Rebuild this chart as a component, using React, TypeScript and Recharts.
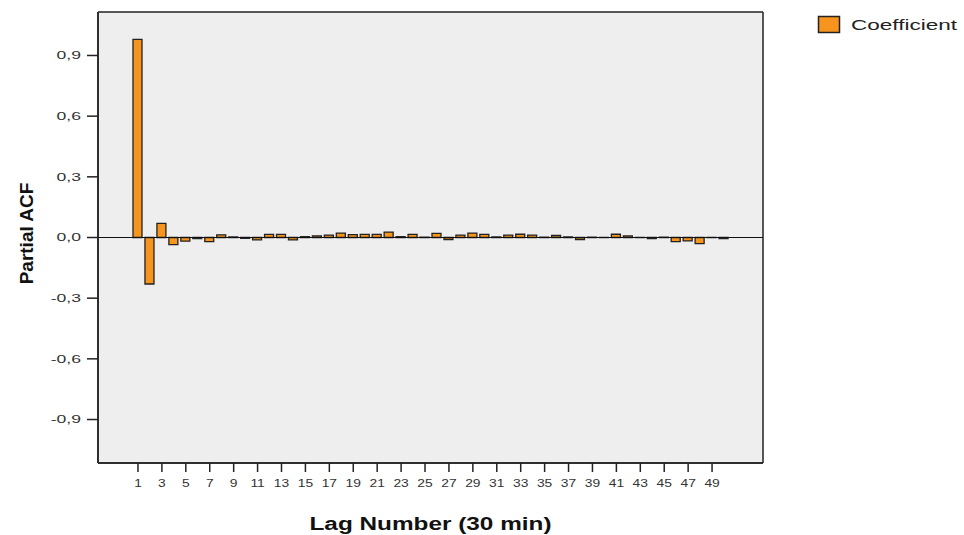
import React from "react";
import {
  BarChart,
  Bar,
  XAxis,
  YAxis,
  CartesianGrid,
  ReferenceLine,
  Legend,
} from "recharts";

const lags: number[] = [
  1, 2, 3, 4, 5, 6, 7, 8, 9, 10, 11, 12, 13, 14, 15, 16, 17, 18, 19, 20, 21, 22, 23, 24, 25,
  26, 27, 28, 29, 30, 31, 32, 33, 34, 35, 36, 37, 38, 39, 40, 41, 42, 43, 44, 45, 46, 47, 48, 49, 50,
];

const coefficients: number[] = [
  0.98, -0.23, 0.07, -0.035, -0.018, -0.005, -0.02, 0.013, 0.003, -0.004,
  -0.012, 0.015, 0.015, -0.012, 0.004, 0.008, 0.012, 0.022, 0.014, 0.015,
  0.015, 0.027, 0.004, 0.015, 0.002, 0.02, -0.01, 0.012, 0.022, 0.015,
  0.003, 0.012, 0.016, 0.012, 0.002, 0.01, 0.003, -0.01, 0.002, 0.001,
  0.016, 0.008, 0.001, -0.005, 0.002, -0.02, -0.017, -0.03, 0.001, -0.006,
];

const yTicks: number[] = [-0.9, -0.6, -0.3, 0, 0.3, 0.6, 0.9];
const yDomain: [number, number] = [-1.115, 1.115];

const seriesName = "Coefficient";
const xTitle = "Lag Number (30 min)";
const yTitle = "Partial ACF";

const data = lags.map((lag, i) => ({ lag, value: coefficients[i] }));

const FONT = "'Liberation Sans', Arial, Helvetica, sans-serif";
const ORANGE = "#f7941d";
const DARK = "#222222";

const fmt = (v: number) => v.toFixed(1).replace(".", ",");

const YTick = (props: any) => {
  const { x, y, payload } = props;
  return (
    <g transform={`translate(${x},${y}) scale(1.6,1)`}>
      <text x={0} y={0} dy="0.355em" textAnchor="end" fontSize={11} fill="#333" fontFamily={FONT}>
        {fmt(Number(payload.value))}
      </text>
    </g>
  );
};

const XTick = (props: any) => {
  const { x, y, payload } = props;
  return (
    <g transform={`translate(${x},${y}) scale(1.38,1)`}>
      <text x={0} y={0} dy="0.71em" textAnchor="middle" fontSize={10} fill="#333" fontFamily={FONT}>
        {payload.value}
      </text>
    </g>
  );
};

const XTitle = (props: any) => {
  const vb = props.viewBox || {};
  const cx = vb.x + vb.width / 2;
  const by = vb.y + 67;
  return (
    <text
      x={cx}
      y={by}
      textAnchor="middle"
      fontSize={18}
      fontWeight="bold"
      fill="#111"
      fontFamily={FONT}
      textLength={242}
      lengthAdjust="spacingAndGlyphs"
    >
      {xTitle}
    </text>
  );
};

const YTitle = (props: any) => {
  const vb = props.viewBox || {};
  const x = vb.x + 33;
  const y = vb.y + vb.height / 2 - 4;
  return (
    <text
      x={x}
      y={y}
      transform={`rotate(-90, ${x}, ${y})`}
      textAnchor="middle"
      fontSize={19}
      fontWeight="bold"
      fill="#111"
      fontFamily={FONT}
    >
      {yTitle}
    </text>
  );
};

const LegendContent = (props: any) => {
  const item = (props.payload && props.payload[0]) || { value: seriesName };
  return (
    <svg width={154} height={30} style={{ display: "block" }}>
      <rect x={8.5} y={8.5} width={21} height={16} fill={ORANGE} stroke={DARK} strokeWidth={1.5} />
      <text
        x={41}
        y={22}
        fontSize={15}
        fill="#222"
        fontFamily={FONT}
        textLength={106}
        lengthAdjust="spacingAndGlyphs"
      >
        {item.value}
      </text>
    </svg>
  );
};

export default function App() {
  return (
    <div style={{ position: "absolute", left: 0, top: 0, background: "#ffffff" }}>
      <BarChart
        width={964}
        height={535}
        data={data}
        margin={{ top: 12, right: 201, bottom: 0, left: 0 }}
        barSize={9}
      >
        <CartesianGrid
          fill="#eeeeee"
          fillOpacity={1}
          stroke={DARK}
          strokeWidth={1.5}
          horizontalCoordinatesGenerator={(p: any) => [p.offset.top, p.offset.top + p.offset.height]}
          verticalCoordinatesGenerator={(p: any) => [p.offset.left, p.offset.left + p.offset.width]}
        />
        <XAxis
          dataKey="lag"
          type="category"
          interval={1}
          height={72}
          padding={{ left: 34, right: 33 }}
          tickSize={9}
          tickMargin={8}
          tick={<XTick />}
          tickLine={{ stroke: DARK, strokeWidth: 1.5 }}
          axisLine={{ stroke: DARK, strokeWidth: 1.5 }}
          label={{ content: <XTitle /> }}
        />
        <YAxis
          type="number"
          width={98}
          domain={yDomain}
          ticks={yTicks}
          allowDataOverflow
          tickSize={11}
          tickMargin={6}
          tick={<YTick />}
          tickLine={{ stroke: DARK, strokeWidth: 1.5 }}
          axisLine={{ stroke: DARK, strokeWidth: 1.5 }}
          label={{ content: <YTitle /> }}
        />
        <Legend
          layout="vertical"
          align="center"
          verticalAlign="middle"
          wrapperStyle={{ left: 810, top: 8, width: 154, height: 30 }}
          content={<LegendContent />}
        />
        <Bar
          dataKey="value"
          name={seriesName}
          fill={ORANGE}
          stroke={DARK}
          strokeWidth={1.3}
          isAnimationActive={false}
        />
        <ReferenceLine y={0} stroke="#111" strokeWidth={1.2} />
      </BarChart>
    </div>
  );
}
